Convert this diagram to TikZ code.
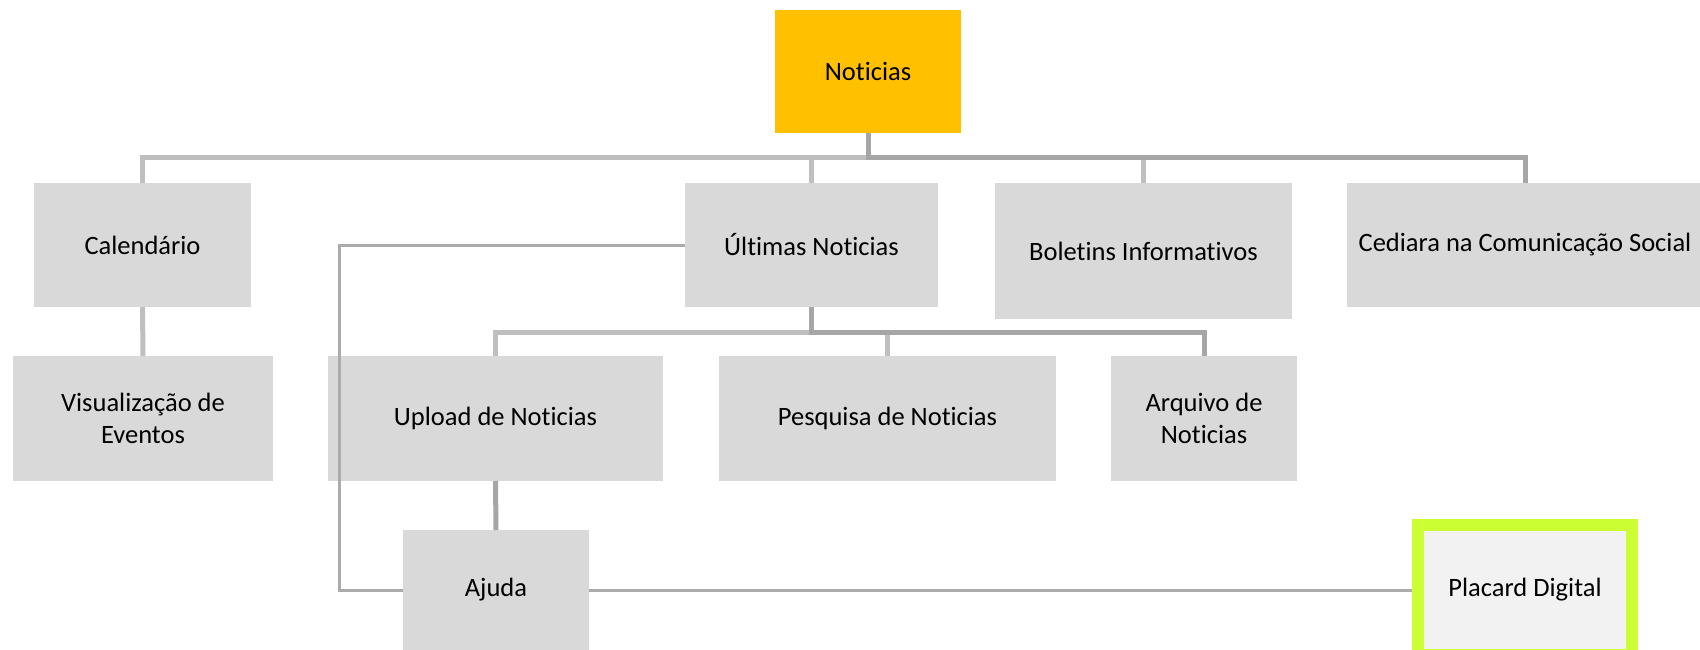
\documentclass[tikz,border=0pt]{standalone}
\usepackage{fontspec}
\setmainfont{Carlito}[RawFeature={-liga;-clig;-calt}]
\usetikzlibrary{calc}
\definecolor{boxgray}{HTML}{D9D9D9}
\definecolor{topgold}{HTML}{FFC000}
\definecolor{lightline}{HTML}{BFBFBF}
\definecolor{darkline}{HTML}{A6A6A6}
\definecolor{limegreen}{RGB}{204,255,51}
\definecolor{palebox}{HTML}{F2F2F2}
\begin{document}
\begin{tikzpicture}[x=1pt, y=-1pt,
    box/.style={fill=boxgray, inner sep=0pt, outer sep=0pt, align=center,
      font=\fontsize{26.5}{32}\selectfont},
    bus/.style={lightline, line width=5pt},
    busdark/.style={darkline, line width=5pt},
    thin/.style={darkline!80!lightline, line width=3pt}
  ]
    \useasboundingbox (0, 0) rectangle (1700, 650);

    \node (noticias) at (868, 71.5) [box, fill=topgold,
      minimum width=186, minimum height=123] {Noticias};

    \node (calendario) at (142.5, 245) [box,
      minimum width=217, minimum height=124] {Calendário};
    \node (ultimas) at (811.5, 245) [box,
      minimum width=253, minimum height=124] {Últimas Noticias};
    \node (boletins) at (1143.5, 251) [box,
      minimum width=297, minimum height=136] {Boletins Informativos};
    \node (cediara) at (1525, 245) [box,
      minimum width=356, minimum height=124] {Cediara na Comunicação Social};

    \node (visualizacao) at (143, 418.5) [box,
      minimum width=260, minimum height=125] {Visualização de\\Eventos};
    \node (upload) at (495.5, 418.5) [box,
      minimum width=335, minimum height=125] {Upload de Noticias};
    \node (pesquisa) at (887.5, 418.5) [box,
      minimum width=337, minimum height=125] {Pesquisa de Noticias};
    \node (arquivo) at (1204, 418.5) [box,
      minimum width=186, minimum height=125] {Arquivo de\\Noticias};

    \node (ajuda) at (496, 590) [box,
      minimum width=186, minimum height=120] {Ajuda};
    \node (placard) at (1525, 590) [box, fill=palebox, draw=limegreen,
      line width=12pt, outer sep=6pt,
      minimum width=214, minimum height=130] {Placard Digital};

    \coordinate (topbus) at (0, 158);
    \coordinate (subbus) at (0, 332);
    \coordinate (leftrun) at (339, 0);

    \draw [bus] (noticias.south) -- (noticias.south |- topbus) -| (calendario.north);
    \draw [bus] (noticias.south |- topbus) -| (ultimas.north);
    \draw [bus] (noticias.south |- topbus) -| (boletins.north);
    \draw [busdark] (noticias.south) -- (noticias.south |- topbus) -| (cediara.north);

    \draw [bus] (calendario.south) -- (visualizacao.north);

    \draw [bus] (ultimas.south) -- (ultimas.south |- subbus) -| (upload.north);
    \draw [bus] (ultimas.south |- subbus) -| (pesquisa.north);
    \draw [busdark] (ultimas.south) -- (ultimas.south |- subbus) -| (arquivo.north);

    \draw [busdark] (upload.south) -- (ajuda.north);

    \draw [thin] (ultimas.west) -- (leftrun |- ultimas.west) |- (ajuda.west);
    \draw [thin] (ajuda.east) -- (placard.west);
\end{tikzpicture}
\end{document}
